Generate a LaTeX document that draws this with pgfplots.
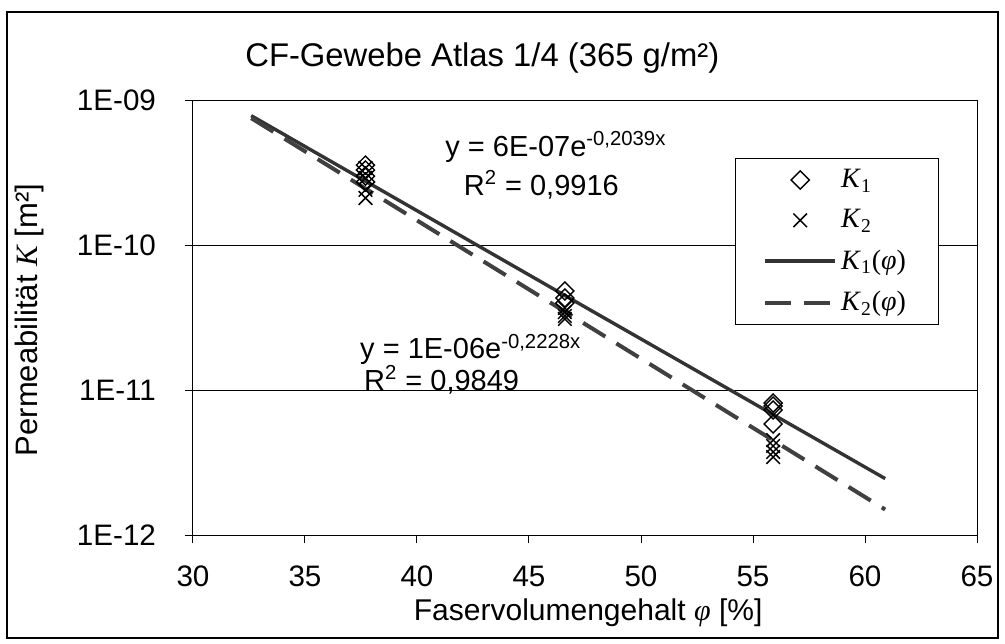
\documentclass[border=0pt]{standalone}
\usepackage{fontspec}
\setmainfont{Liberation Sans}
\newfontfamily\timesf{Liberation Serif}
\usepackage{pgfplots}
\pgfplotsset{compat=1.18}
\tikzset{eqn/.style={font=\fontsize{14.5bp}{16bp}\selectfont, inner sep=0.5bp}}
\begin{document}
\begin{tikzpicture}
\path[use as bounding box] (-96.5bp,-54.5bp) rectangle (406bp,267.5bp);
\draw[line width=0.6bp] (-93bp,-51.5bp) rectangle (402.5bp,261.5bp);
\begin{axis}[
  scale only axis, width=392bp, height=217.5bp,
  xmin=30, xmax=65, ymode=log, ymin=1e-12, ymax=1e-9,
  xtick={30,35,...,65},
  ytick={1e-12,1e-11,1e-10,1e-9},
  yticklabels={1E-12,1E-11,1E-10,1E-09},
  yminorticks=false,
  ymajorgrids, grid style={black,line width=0.5bp},
  tick align=outside, tick pos=left, major tick length=4bp,
  axis line style={line width=0.5bp},
  every tick/.style={black,line width=0.5bp},
  /pgf/number format/assume math mode=true,
  tick label style={font=\fontsize{14.8bp}{17bp}\selectfont},
  xticklabel style={yshift=-8bp},
  yticklabel style={xshift=-11bp},
  title={CF-Gewebe Atlas 1/4 (365 g/m²)},
  title style={at={(axis description cs:0.369,1.068)},anchor=center,
    font=\fontsize{16.4bp}{19bp}\selectfont},
  xlabel={Faservolumengehalt {\timesf\itshape φ} [\%]},
  xlabel style={at={(axis description cs:0.504,-0.18)},anchor=center,
    font=\fontsize{15bp}{17bp}\selectfont},
  ylabel={Permeabilität {\timesf\itshape K} [m²]},
  ylabel style={at={(axis description cs:-0.208,0.494)},anchor=center,
    font=\fontsize{15.5bp}{17bp}\selectfont},
  legend style={at={(axis description cs:0.691,0.867)},anchor=north west,
    draw=black, line width=0.5bp, fill=white,
    font=\fontsize{14bp}{16bp}\timesf,
    inner xsep=14bp, inner ysep=3.5bp, row sep=5.5bp},
  legend cell align=left,
  legend image code/.code={
    \draw[mark repeat=2,mark phase=2,#1] plot coordinates {(0bp,0bp) (17.5bp,0bp) (35bp,0bp)};},
]
\addplot[only marks, mark=square, mark size=3.2bp,
  mark options={rotate=45,line width=0.7bp,black}]
  coordinates {(37.7,3.56e-10)(37.7,3.29e-10)(37.7,2.99e-10)(37.7,2.72e-10)
    (46.6,4.82e-11)(46.6,4.31e-11)(46.6,3.98e-11)
    (55.9,8.13e-12)(55.9,7.76e-12)(55.9,7.28e-12)(55.9,5.83e-12)};
\addlegendentry{\textit{K}\textsubscript{1}}
\addplot[only marks, mark=x, mark size=4.8bp,
  mark options={line width=0.75bp,black}]
  coordinates {(37.7,3.40e-10)(37.7,2.90e-10)(37.7,2.40e-10)(37.7,2.11e-10)
    (46.6,3.68e-11)(46.6,3.45e-11)(46.6,3.24e-11)(46.6,3.09e-11)
    (55.9,4.52e-12)(55.9,4.11e-12)(55.9,3.74e-12)(55.9,3.45e-12)};
\addlegendentry{\textit{K}\textsubscript{2}}
\addplot[no marks, black!80, line width=1.7bp]
  coordinates {(32.6,7.8e-10)(46.7,4.4e-11)(60.9,2.45e-12)};
\addlegendentry{\textit{K}\textsubscript{1}(\textit{φ})}
\addplot[no marks, black!75, line width=2bp, dash pattern=on 13bp off 6.5bp]
  coordinates {(32.6,7.5e-10)(46.7,3.4e-11)(60.9,1.5e-12)};
\addlegendentry{\textit{K}\textsubscript{2}(\textit{φ})}
\node[eqn] at (axis cs:46.2,4.74e-10) {y = 6E-07e\textsuperscript{-0,2039x}};
\node[eqn] at (axis cs:45.55,2.6e-10) {R\textsuperscript{2} = 0,9916};
\node[eqn] at (axis cs:42.4,1.9e-11) {y = 1E-06e\textsuperscript{-0,2228x}};
\node[eqn] at (axis cs:41.1,1.18e-11) {R\textsuperscript{2} = 0,9849};
\end{axis}
\end{tikzpicture}
\end{document}
